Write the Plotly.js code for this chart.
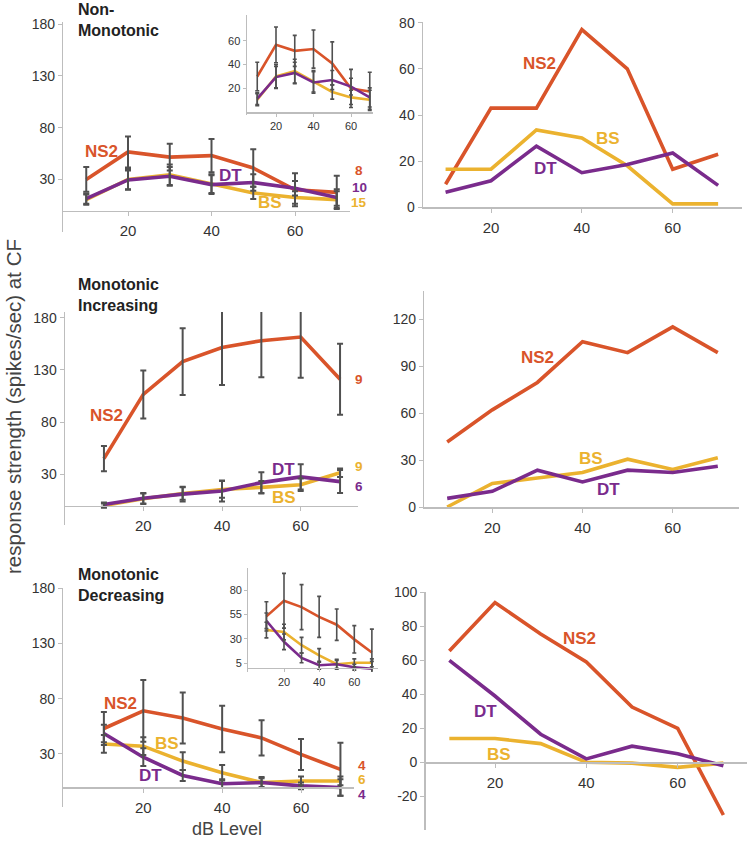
<!DOCTYPE html>
<html><head><meta charset="utf-8">
<script src="https://cdn.plot.ly/plotly-3.0.1.min.js"></script>
<style>html,body{margin:0;padding:0;background:#fff}#chart{width:747px;height:841px}</style>
</head><body><div id="chart"></div>
<script>
// ---------------- DATA ----------------
const levels = [10, 20, 30, 40, 50, 60, 70];

// Non-Monotonic (left: mean +/- error, right: second measure)
const nmNS2 = [30, 56.5, 51.5, 53, 41, 20, 17.5];
const nmBS  = [10.5, 30, 34.5, 26, 17, 12.5, 10.5];
const nmDT  = [11.5, 29.5, 33, 25, 27, 21.5, 12.5];
const nmNS2err = [12, 15, 13, 16, 18, 16, 16];
const nmBSerr  = [5, 10, 10, 9, 6, 6, 8];
const nmDTerr  = [5, 9, 9, 9, 8, 7, 8];
const nmNS2r = [10, 43, 43, 77, 60, 16.5, 23];
const nmBSr  = [16.5, 16.5, 33.5, 30, 18, 1.5, 1.5];
const nmDTr  = [6.5, 11.5, 26.5, 15, 18.5, 23.5, 9.5];
const nmN = ['8', '10', '15'];

// Monotonic Increasing
const miNS2 = [45, 106.5, 138, 151.5, 158, 161.5, 121];
const miBS  = [0, 6.5, 11.5, 15.5, 17.5, 20, 31.5];
const miDT  = [1, 7, 11, 14, 22, 27.5, 23];
const miNS2err = [12, 23, 32, 36, 35, 39, 34];
const miBSerr  = [2, 5, 6, 8, 6, 6, 4];
const miDTerr  = [2, 5, 7, 10, 10, 12, 11];
const miNS2r = [41.5, 62, 79.5, 105.5, 98.5, 115, 98.5];
const miBSr  = [0, 15, 18.5, 22, 30.5, 24, 31.5];
const miDTr  = [5.5, 10, 23.5, 16, 23.5, 22, 26];
const miN = ['9', '9', '6'];

// Monotonic Decreasing
const mdNS2 = [53, 69, 62.5, 52.5, 44.5, 29.5, 16];
const mdBS  = [39, 37, 23.5, 13, 4, 5.5, 5.5];
const mdDT  = [48.5, 27, 10.5, 3, 4, 1, -0.5];
const mdNS2err = [15, 28, 23, 21, 16, 14, 24];
const mdBSerr  = [8, 8, 8, 7, 5, 4, 4];
const mdDTerr  = [8, 8, 5, 4, 4, 3, 7.5];
const mdNS2r = [65.5, 94, 75.5, 59, 32.5, 20, -31];
const mdBSr  = [14, 14, 11, 0, -0.5, -3, -0.5];
const mdDTr  = [60, 39, 16.5, 2, 9.5, 5, -2];
const mdN = ['4', '6', '4'];

const xTicks = [20, 40, 60];
const yTicksMain = [30, 80, 130, 180];
const yTicksInsetA = [20, 40, 60];
const yTicksInsetC = [5, 30, 55, 80];
const yTicksRightA = [0, 20, 40, 60, 80];
const yTicksRightB = [0, 30, 60, 90, 120];
const yTicksRightC = [-20, 0, 20, 40, 60, 80, 100];

// ---------------- STYLE / LAYOUT ----------------
const W = 747, H = 841;
const C_NS2 = '#D9542A', C_BS = '#EBB22F', C_DT = '#7A2B8C';
const C_ERR = '#505050', C_AX = '#BDBDBD', C_TXT = '#333333';
const FONT = 'Liberation Sans, Arial, sans-serif';
const NARROW = 'Liberation Sans Narrow, Liberation Sans, Arial, sans-serif';

// pixel calibration of each panel
const panels = [
  {xl:63.3, xr:350, x20:128, x60:295, yt:22, yb:231.5, p1:[0,210.5], p2:[180,24], yt_:yTicksMain, kind:'main'},
  {xl:246.7, xr:372.7, x20:276, x60:351, yt:15, yb:115, p1:[0,112.3], p2:[60,40.7], yt_:yTicksInsetA, kind:'inset'},
  {xl:423, xr:742, x20:491, x60:672.7, yt:21.7, yb:208.5, p1:[0,207.3], p2:[80,22.7], yt_:yTicksRightA, kind:'right'},
  {xl:65, xr:358, x20:143.3, x60:300.7, yt:312, yb:525, p1:[0,505.6], p2:[180,317.7], yt_:yTicksMain, kind:'main'},
  {xl:424.3, xr:739, x20:492.3, x60:672.7, yt:291, yb:508.5, p1:[0,507], p2:[120,319], yt_:yTicksRightB, kind:'right'},
  {xl:63.3, xr:354, x20:143.3, x60:301, yt:588, yb:807, p1:[0,787], p2:[180,588.3], yt_:yTicksMain, kind:'main'},
  {xl:248.3, xr:378, x20:284, x60:354.3, yt:568.3, yb:671.7, p1:[5,663.3], p2:[80,590], yt_:yTicksInsetC, kind:'inset'},
  {xl:425.7, xr:747, x20:495, x60:677.7, yt:592, yb:830, p1:[0,762.3], p2:[100,592.3], yt_:yTicksRightC, kind:'right'}
];

// series per panel: [means, errors or null, colour]
const panelSeries = [
  [[nmNS2, nmNS2err, C_NS2], [nmBS, nmBSerr, C_BS], [nmDT, nmDTerr, C_DT]],
  [[nmNS2, nmNS2err, C_NS2], [nmBS, nmBSerr, C_BS], [nmDT, nmDTerr, C_DT]],
  [[nmNS2r, null, C_NS2], [nmBSr, null, C_BS], [nmDTr, null, C_DT]],
  [[miNS2, miNS2err, C_NS2], [miBS, miBSerr, C_BS], [miDT, miDTerr, C_DT]],
  [[miNS2r, null, C_NS2], [miBSr, null, C_BS], [miDTr, null, C_DT]],
  [[mdNS2, mdNS2err, C_NS2], [mdBS, mdBSerr, C_BS], [mdDT, mdDTerr, C_DT]],
  [[mdNS2, mdNS2err, C_NS2], [mdBS, mdBSerr, C_BS], [mdDT, mdDTerr, C_DT]],
  [[mdNS2r, null, C_NS2], [mdBSr, null, C_BS], [mdDTr, null, C_DT]]
];

const layout = {
  width: W, height: H, margin: {l:0, r:0, t:0, b:0},
  paper_bgcolor: '#fff', plot_bgcolor: 'rgba(0,0,0,0)',
  showlegend: false, hovermode: false,
  font: {family: FONT, color: C_TXT},
  annotations: []
};
const lineTraces = [], errTraces = [];

panels.forEach((p, i) => {
  const n = i + 1;
  const xn = 'x' + (n === 1 ? '' : n), yn = 'y' + (n === 1 ? '' : n);
  const xk = 'xaxis' + (n === 1 ? '' : n), yk = 'yaxis' + (n === 1 ? '' : n);
  const xs = (p.x60 - p.x20) / 40;
  const xv = px => 20 + (px - p.x20) / xs;
  const ys = (p.p1[1] - p.p2[1]) / (p.p2[0] - p.p1[0]);
  const yv = px => p.p1[0] + (p.p1[1] - px) / ys;
  const zeroPx = p.p1[1] + p.p1[0] * ys;
  const inset = p.kind === 'inset';
  layout[xk] = {
    domain: [p.xl / W, p.xr / W], range: [xv(p.xl), xv(p.xr)],
    anchor: 'free', position: 1 - zeroPx / H,
    showgrid: false, zeroline: false, showline: true, linecolor: C_AX, linewidth: inset ? 1.2 : 1.5,
    ticks: 'outside', ticklen: inset ? 3 : 4, tickcolor: C_AX, tickwidth: 1,
    tickvals: xTicks, ticktext: xTicks.map(String),
    tickfont: {family: NARROW, size: inset ? 11 : 15, color: C_TXT},
    ticklabelstandoff: inset ? 0 : 2,
    fixedrange: true
  };
  layout[yk] = {
    domain: [1 - p.yb / H, 1 - p.yt / H], range: [yv(p.yb), yv(p.yt)],
    anchor: xn, showgrid: false, zeroline: false, showline: true, linecolor: C_AX, linewidth: inset ? 1.2 : 1.5,
    ticks: 'outside', ticklen: inset ? 3 : 4, tickcolor: C_AX, tickwidth: 1,
    tickvals: p.yt_, ticktext: p.yt_.map(String),
    tickfont: {family: FONT, size: inset ? 11 : 14, color: C_TXT},
    fixedrange: true
  };
  panelSeries[i].forEach(s => {
    lineTraces.push({
      type: 'scatter', mode: 'lines', x: levels, y: s[0], xaxis: xn, yaxis: yn,
      line: {color: s[2], width: inset ? 2.6 : 3.6}, cliponaxis: false
    });
    if (s[1]) {
      errTraces.push({
        type: 'scatter', mode: 'markers', x: levels, y: s[0], xaxis: xn, yaxis: yn,
        marker: {size: 1, color: 'rgba(0,0,0,0)'}, cliponaxis: false,
        error_y: {type: 'data', array: s[1], visible: true, color: C_ERR,
                  thickness: inset ? 1.6 : 2, width: inset ? 2 : 3}
      });
    }
  });
});

// text helpers (pixel positions)
function ann(text, x, y, color, size, opts) {
  opts = opts || {};
  layout.annotations.push(Object.assign({
    text: text, x: x / W, y: 1 - y / H, xref: 'paper', yref: 'paper',
    showarrow: false, xanchor: 'center', yanchor: 'middle', borderpad: 0,
    font: {family: opts.family || NARROW, size: size, color: color, weight: 700}
  }, opts.extra || {}));
}
function title(text, x, y) {
  ann(text, x, y, '#222222', 16, {family: FONT, extra: {xanchor: 'left', align: 'left'}});
}
title('Non-<br>Monotonic', 77, 20);
title('Monotonic<br>Increasing', 77, 295);
title('Monotonic<br>Decreasing', 77, 585);

// series labels
ann('NS2', 101.7, 151.7, C_NS2, 17); ann('DT', 230, 175, C_DT, 17); ann('BS', 270, 202.7, C_BS, 17);
ann('NS2', 539, 63.3, C_NS2, 17); ann('BS', 608.3, 138.3, C_BS, 17); ann('DT', 545.7, 168.3, C_DT, 17);
ann('NS2', 106.7, 415.7, C_NS2, 17); ann('DT', 283.3, 469.3, C_DT, 17); ann('BS', 284, 497.7, C_BS, 17);
ann('NS2', 537.3, 357.3, C_NS2, 17); ann('BS', 590.7, 458.3, C_BS, 17); ann('DT', 608.3, 489.3, C_DT, 17);
ann('NS2', 120, 703.3, C_NS2, 17); ann('BS', 166.7, 743.3, C_BS, 17); ann('DT', 150, 775, C_DT, 17);
ann('NS2', 579, 638.3, C_NS2, 17); ann('DT', 485, 711.7, C_DT, 17); ann('BS', 499, 754.3, C_BS, 17);

// sample sizes
const nOpt = {family: FONT};
ann(nmN[0], 359, 170, C_NS2, 13.5, nOpt); ann(nmN[1], 359, 187.3, C_DT, 13.5, nOpt); ann(nmN[2], 359, 202.8, C_BS, 13.5, nOpt);
ann(miN[0], 359, 379, C_NS2, 13.5, nOpt); ann(miN[1], 359, 466.7, C_BS, 13.5, nOpt); ann(miN[2], 359, 486, C_DT, 13.5, nOpt);
ann(mdN[0], 361.7, 765, C_NS2, 13.5, nOpt); ann(mdN[1], 361.7, 779.5, C_BS, 13.5, nOpt); ann(mdN[2], 361.7, 794, C_DT, 13.5, nOpt);

// axis titles
layout.annotations.push({text: 'response strength (spikes/sec) at CF', x: 13 / W, y: 1 - 407 / H,
  xref: 'paper', yref: 'paper', showarrow: false, textangle: -90, xanchor: 'center', yanchor: 'middle',
  font: {family: FONT, size: 20.5, color: '#444444'}});
layout.annotations.push({text: 'dB Level', x: 226.7 / W, y: 1 - 829.3 / H,
  xref: 'paper', yref: 'paper', showarrow: false, xanchor: 'center', yanchor: 'middle',
  font: {family: FONT, size: 18, color: '#444444'}});

Plotly.newPlot('chart', lineTraces.concat(errTraces), layout, {staticPlot: true, displayModeBar: false});
</script>
</body></html>
